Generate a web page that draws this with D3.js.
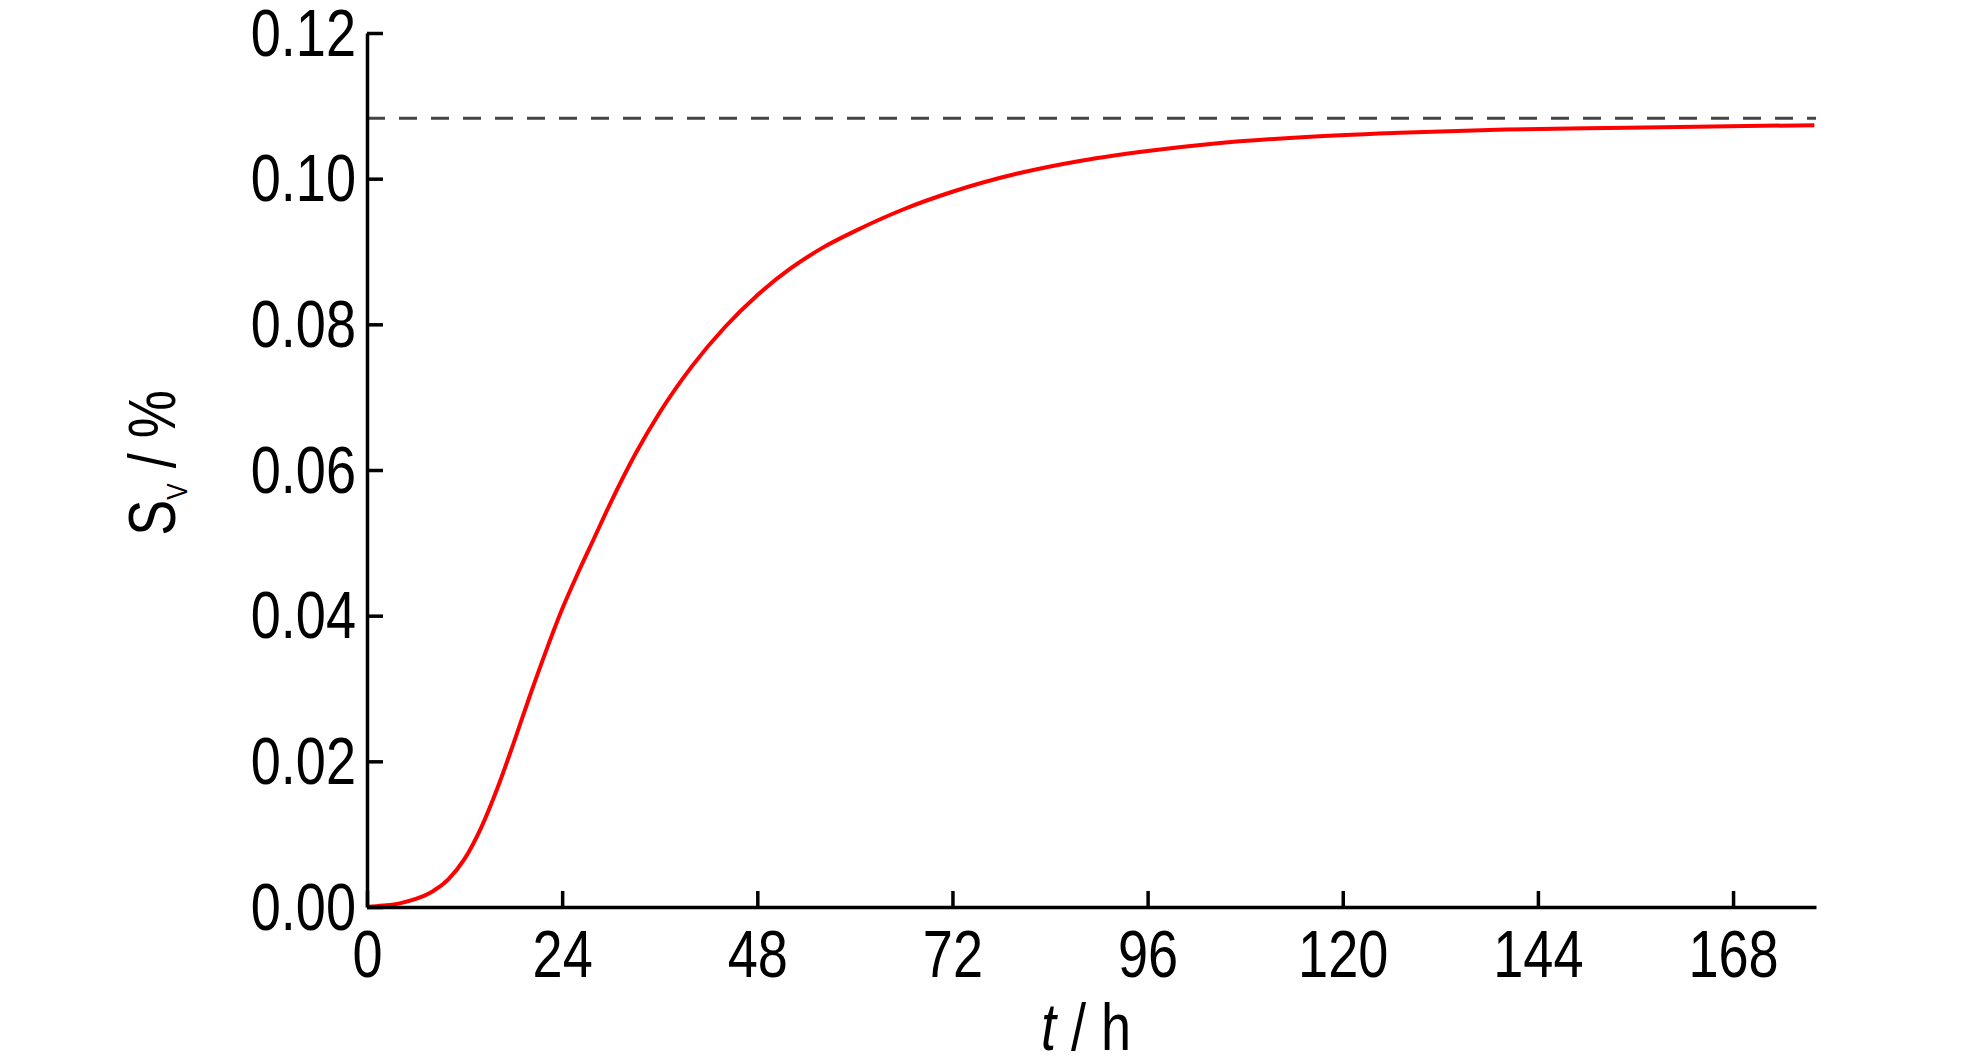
<!DOCTYPE html>
<html>
<head>
<meta charset="utf-8">
<script src="https://cdn.jsdelivr.net/npm/d3@7"></script>
<style>
  html, body { margin: 0; padding: 0; background: #fff; }
  svg { display: block; }
  text { font-family: "Liberation Sans", Arial, sans-serif; fill: #000; }
</style>
</head>
<body>
<svg id="chart" width="1984" height="1063"></svg>
<script>
// ---- data ----
const timeHours = [0, 2, 4, 6, 8, 10, 12, 14, 16, 18, 20, 22, 24, 26, 28, 30, 33, 36, 40, 44, 48, 52, 56, 60, 66, 72, 80, 88, 96, 104, 115, 127, 140, 155, 178];
const svValues  = [0, 0.0002, 0.0005, 0.0011, 0.0021, 0.0038, 0.0066, 0.0108, 0.0162, 0.0224, 0.0289, 0.0351, 0.0409, 0.0460, 0.0508, 0.0556, 0.0622, 0.0679, 0.0743, 0.0796, 0.0840, 0.0876, 0.0905, 0.0928, 0.0958, 0.0982, 0.1007, 0.1025, 0.1038, 0.1048, 0.1057, 0.1063, 0.10675, 0.1070, 0.10735];
const asymptoteValue = 0.1083;
const xTicks = [0, 24, 48, 72, 96, 120, 144, 168];
const yTicks = [0, 0.02, 0.04, 0.06, 0.08, 0.10, 0.12];
const xDomain = [0, 178.2];
const yDomain = [0, 0.12];

(function () {
// ---- layout ----
const svg = d3.select("#chart");
const mLeft = 367, mRight = 1816, mTop = 33, mBottom = 907;
const SX = 0.82;      // horizontal squeeze of the condensed font
const FS = 66;        // font size

const x = d3.scaleLinear().domain(xDomain).range([mLeft, mRight]);
const y = d3.scaleLinear().domain(yDomain).range([mBottom, mTop]);

// dashed asymptote
svg.append("line")
  .attr("x1", x(xDomain[0])).attr("x2", x(xDomain[1]))
  .attr("y1", y(asymptoteValue)).attr("y2", y(asymptoteValue))
  .attr("stroke", "#444").attr("stroke-width", 3)
  .attr("stroke-dasharray", "18,14");

// curve
const pts = timeHours.map((t, i) => [t, svValues[i]]);
svg.append("path")
  .datum(pts)
  .attr("fill", "none")
  .attr("stroke", "#ff0000")
  .attr("stroke-width", 4)
  .attr("stroke-linejoin", "round")
  .attr("d", d3.line().x(d => x(d[0])).y(d => y(d[1])).curve(d3.curveMonotoneX));

// x axis
const gx = svg.append("g")
  .attr("transform", `translate(0,${mBottom})`)
  .call(d3.axisBottom(x).tickValues(xTicks).tickSizeInner(-16).tickSizeOuter(0).tickFormat(d3.format("d")));
gx.select(".domain").attr("stroke", "#000").attr("stroke-width", 3.5);
gx.selectAll(".tick line").attr("stroke", "#000").attr("stroke-width", 3.5);
gx.selectAll(".tick text")
  .attr("font-size", FS)
  .attr("font-family", "Liberation Sans, Arial, sans-serif")
  .attr("fill", "#000")
  .attr("y", 70).attr("dy", 0)
  .attr("transform", `scale(${SX},1)`);

// y axis
const gy = svg.append("g")
  .attr("transform", `translate(${mLeft},0)`)
  .call(d3.axisLeft(y).tickValues(yTicks).tickSizeInner(-16).tickSizeOuter(0).tickFormat(d3.format(".2f")));
gy.select(".domain").attr("stroke", "#000").attr("stroke-width", 3.5);
gy.selectAll(".tick line").attr("stroke", "#000").attr("stroke-width", 3.5);
gy.selectAll(".tick text")
  .attr("font-size", FS)
  .attr("font-family", "Liberation Sans, Arial, sans-serif")
  .attr("fill", "#000")
  .attr("x", -11 / SX).attr("dy", 0).attr("y", 22)
  .attr("text-anchor", "end")
  .attr("transform", `scale(${SX},1)`);
svg.selectAll(".domain").attr("fill", "none");

// x axis title
const xt = svg.append("text")
  .attr("transform", `translate(1086,1050) scale(${SX},1)`)
  .attr("text-anchor", "middle")
  .attr("font-size", FS);
xt.append("tspan").attr("font-style", "italic").text("t");
xt.append("tspan").text(" / h");

// y axis title
const yt = svg.append("text")
  .attr("transform", `translate(175,463) rotate(-90) scale(${SX},1)`)
  .attr("text-anchor", "middle")
  .attr("font-size", FS);
yt.append("tspan").text("S");
yt.append("tspan").attr("font-size", 30).attr("dy", 12).text("V");
yt.append("tspan").attr("dy", -12).text(" / %");
})();
</script>
</body>
</html>
